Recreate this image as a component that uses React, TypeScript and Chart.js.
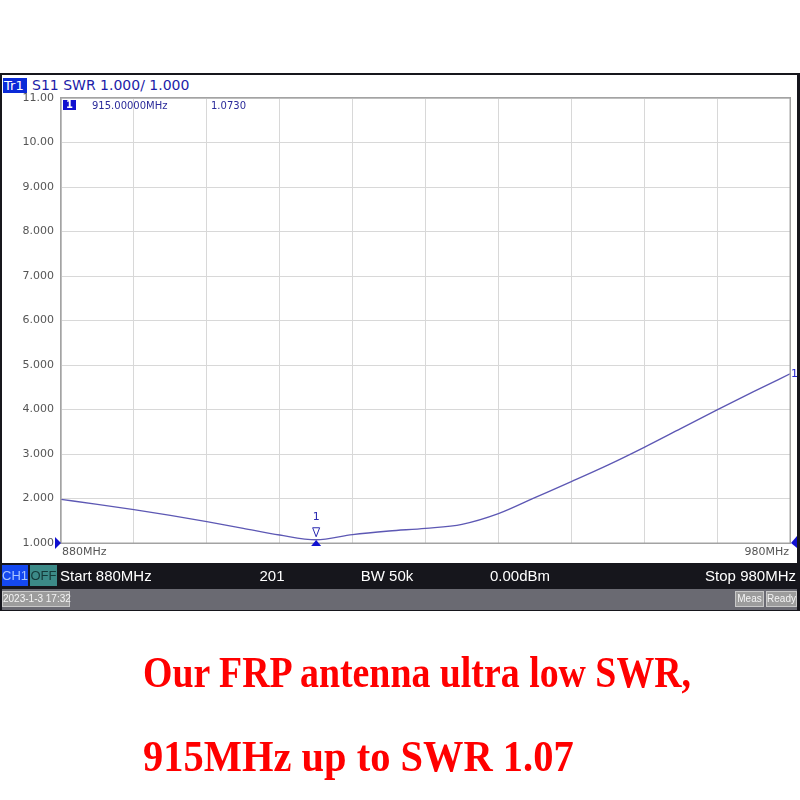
import React, { useEffect, useRef } from "react";
import { Chart, registerables } from "chart.js";

Chart.register(...registerables);

// ---- data ----
const freqMHz = [880, 885, 890, 895, 900, 905, 910, 915, 920, 925, 930, 935, 940, 945, 950, 955, 960, 965, 970, 975, 980];
const swr = [1.98, 1.87, 1.75, 1.62, 1.48, 1.33, 1.18, 1.073, 1.19, 1.27, 1.33, 1.42, 1.66, 2.02, 2.38, 2.75, 3.15, 3.57, 3.99, 4.4, 4.8];
const yTickValues = [1, 2, 3, 4, 5, 6, 7, 8, 9, 10, 11];
const yTickLabels = ["1.000", "2.000", "3.000", "4.000", "5.000", "6.000", "7.000", "8.000", "9.000", "10.00", "11.00"];
const startLabel = "880MHz";
const stopLabel = "980MHz";
const markerFreq = 915;
const markerValue = 1.073;
const markerFreqText = "915.00000MHz";
const markerValueText = "1.0730";
const traceTitle = "S11 SWR 1.000/ 1.000";
const statusItems = ["Start 880MHz", "201", "BW 50k", "0.00dBm", "Stop 980MHz"];
const dateText = "2023-1-3 17:32";
const captionLines = ["Our FRP antenna ultra low SWR,", "915MHz up to SWR 1.07"];

const overlayPlugin = {
  id: "vnaOverlay",
  afterDraw(chart: any) {
    const ctx = chart.ctx;
    const { left, right, top, bottom } = chart.chartArea;
    const xs = chart.scales.x;
    const ys = chart.scales.y;
    ctx.save();
    // frame
    ctx.strokeStyle = "#a3a3a3";
    ctx.lineWidth = 1.5;
    ctx.strokeRect(left - 0.25, top - 0.25, right - left + 0.5, bottom - top + 0.5);

    // marker readout row
    ctx.fillStyle = "#1010d0";
    ctx.fillRect(left + 2, top + 2, 13, 10);
    ctx.fillStyle = "#ffffff";
    ctx.font = "bold 10px 'DejaVu Sans'";
    ctx.textBaseline = "middle";
    ctx.textAlign = "center";
    ctx.fillText("1", left + 8.5, top + 7.5);
    ctx.fillStyle = "#2a2a9a";
    ctx.font = "10px 'DejaVu Sans'";
    ctx.textAlign = "left";
    ctx.fillText(markerFreqText, left + 31, top + 8);
    ctx.fillText(markerValueText, left + 150, top + 8);

    // x labels
    ctx.fillStyle = "#555555";
    ctx.font = "11px 'DejaVu Sans'";
    ctx.textBaseline = "middle";
    ctx.textAlign = "left";
    ctx.fillText(startLabel, left + 1, bottom + 9);
    ctx.textAlign = "right";
    ctx.fillText(stopLabel, right - 1, bottom + 9);

    // marker
    const mx = xs.getPixelForValue(markerFreq);
    const my = ys.getPixelForValue(markerValue);
    ctx.strokeStyle = "#2a2ab0";
    ctx.lineWidth = 1;
    ctx.beginPath();
    ctx.moveTo(mx - 3.5, my - 12);
    ctx.lineTo(mx + 3.5, my - 12);
    ctx.lineTo(mx, my - 3);
    ctx.closePath();
    ctx.stroke();
    ctx.fillStyle = "#2a2ab0";
    ctx.font = "11px 'DejaVu Sans'";
    ctx.textAlign = "center";
    ctx.fillText("1", mx, my - 23);
    ctx.fillStyle = "#1010d0";
    ctx.beginPath();
    ctx.moveTo(mx, bottom - 3);
    ctx.lineTo(mx + 5, bottom + 3);
    ctx.lineTo(mx - 5, bottom + 3);
    ctx.closePath();
    ctx.fill();

    // reference level arrows
    const refY = ys.getPixelForValue(1);
    ctx.beginPath();
    ctx.moveTo(left - 6, refY - 6);
    ctx.lineTo(left, refY);
    ctx.lineTo(left - 6, refY + 6);
    ctx.closePath();
    ctx.fill();
    ctx.beginPath();
    ctx.moveTo(right + 7, refY - 7);
    ctx.lineTo(right + 1, refY);
    ctx.lineTo(right + 7, refY + 5);
    ctx.closePath();
    ctx.fill();

    // trace end label
    const endY = ys.getPixelForValue(swr[swr.length - 1]);
    ctx.fillStyle = "#2a2ad0";
    ctx.font = "11px 'DejaVu Sans'";
    ctx.textAlign = "left";
    ctx.fillText("1", right + 1, endY);
    ctx.restore();
  },
};

export default function App() {
  const canvasRef = useRef<HTMLCanvasElement | null>(null);

  useEffect(() => {
    if (!canvasRef.current) return;
    const chart = new Chart(canvasRef.current, {
      type: "line",
      data: {
        datasets: [
          {
            data: freqMHz.map((f, i) => ({ x: f, y: swr[i] })),
            borderColor: "#5d58b4",
            borderWidth: 1.3,
            pointRadius: 0,
            cubicInterpolationMode: "monotone",
            fill: false,
          },
        ],
      },
      options: {
        animation: false,
        responsive: false,
        devicePixelRatio: 1,
        layout: { padding: { left: 0, top: 98, right: 10, bottom: 257 } },
        plugins: { legend: { display: false }, tooltip: { enabled: false } },
        scales: {
          x: {
            type: "linear",
            min: 880,
            max: 980,
            ticks: { display: false, stepSize: 10 },
            grid: { color: "#d8d8d8", drawTicks: false, lineWidth: 1 },
            border: { display: false },
            afterFit: (s: any) => {
              s.height = 0;
            },
          },
          y: {
            type: "linear",
            min: 1,
            max: 11,
            afterBuildTicks: (s: any) => {
              s.ticks = yTickValues.map((v) => ({ value: v }));
            },
            ticks: {
              color: "#555555",
              font: { family: "'DejaVu Sans'", size: 11 },
              padding: 7,
              callback: (v: any) => {
                const i = yTickValues.indexOf(Number(v));
                return i >= 0 ? yTickLabels[i] : "";
              },
            },
            grid: { color: "#d8d8d8", drawTicks: false, lineWidth: 1 },
            border: { display: false },
            afterFit: (s: any) => {
              s.width = 61;
            },
          },
        },
      },
      plugins: [overlayPlugin],
    } as any);
    return () => chart.destroy();
  }, []);

  const abs = (o: any): React.CSSProperties => ({ position: "absolute", ...o });
  const smallBox = {
    top: 591,
    height: 16,
    background: "#9c9c9c",
    border: "1px solid #c8c8c8",
    boxSizing: "border-box",
    color: "#f4f4f4",
    fontFamily: "'Liberation Sans'",
    fontSize: 10,
    lineHeight: "14px",
    textAlign: "center",
    whiteSpace: "nowrap",
  };

  return (
    <div style={abs({ left: 0, top: 0, width: 800, height: 800, background: "#ffffff", overflow: "hidden" })}>
      {/* instrument frame */}
      <div style={abs({ left: 0, top: 73, width: 800, height: 538, background: "#16161c" })} />
      <div style={abs({ left: 2, top: 75, width: 795, height: 488, background: "#ffffff" })} />
      {/* title */}
      <div style={abs({ left: 3, top: 78, width: 24, height: 15, background: "#0a2ad8" })} />
      <div
        style={abs({
          left: 4,
          top: 77,
          height: 17,
          lineHeight: "17px",
          fontFamily: "'DejaVu Sans'",
          fontSize: 13,
          color: "#ffffff",
          whiteSpace: "nowrap",
        })}
      >
        Tr1
      </div>
      <div
        style={abs({
          left: 32,
          top: 77,
          height: 17,
          lineHeight: "17px",
          fontFamily: "'DejaVu Sans'",
          fontSize: 14,
          color: "#1c1ca8",
          whiteSpace: "nowrap",
        })}
      >
        {traceTitle}
      </div>
      <canvas ref={canvasRef} width={800} height={800} style={abs({ left: 0, top: 0, width: 800, height: 800 })} />
      {/* status bar */}
      <div style={abs({ left: 2, top: 565, width: 26, height: 21, background: "#1448f0", color: "#a8c4ff", fontFamily: "'Liberation Sans'", fontSize: 13, lineHeight: "21px", textAlign: "center" })}>CH1</div>
      <div style={abs({ left: 30, top: 565, width: 27, height: 21, background: "#3c8a88", color: "#143838", fontFamily: "'Liberation Sans'", fontSize: 13, lineHeight: "21px", textAlign: "center" })}>OFF</div>
      {[
        { x: 60, align: "left" },
        { x: 272, align: "center" },
        { x: 387, align: "center" },
        { x: 520, align: "center" },
        { x: 796, align: "right" },
      ].map((p, i) => (
        <div
          key={i}
          style={abs({
            left: p.align === "left" ? p.x : p.align === "center" ? p.x - 100 : p.x - 200,
            width: 200,
            top: 565,
            height: 21,
            lineHeight: "21px",
            textAlign: p.align,
            color: "#ffffff",
            fontFamily: "'Liberation Sans'",
            fontSize: 15,
            whiteSpace: "nowrap",
          })}
        >
          {statusItems[i]}
        </div>
      ))}
      {/* bottom bar */}
      <div style={abs({ left: 2, top: 589, width: 795, height: 21, background: "#6a6a72" })} />
      <div style={abs({ ...smallBox, left: 2, width: 68 })}>{dateText}</div>
      <div style={abs({ ...smallBox, left: 735, width: 29 })}>Meas</div>
      <div style={abs({ ...smallBox, left: 766, width: 31 })}>Ready</div>
      {/* caption */}
      {captionLines.map((t, i) => (
        <div
          key={i}
          style={abs({
            left: 143,
            top: 651 + i * 84,
            height: 44,
            lineHeight: "44px",
            fontFamily: "'Liberation Serif'",
            fontWeight: "bold",
            fontSize: 44,
            color: "#ff0000",
            whiteSpace: "nowrap",
            transform: `scaleX(${i === 0 ? 0.86 : 0.92})`,
            transformOrigin: "left top",
          })}
        >
          {t}
        </div>
      ))}
    </div>
  );
}
